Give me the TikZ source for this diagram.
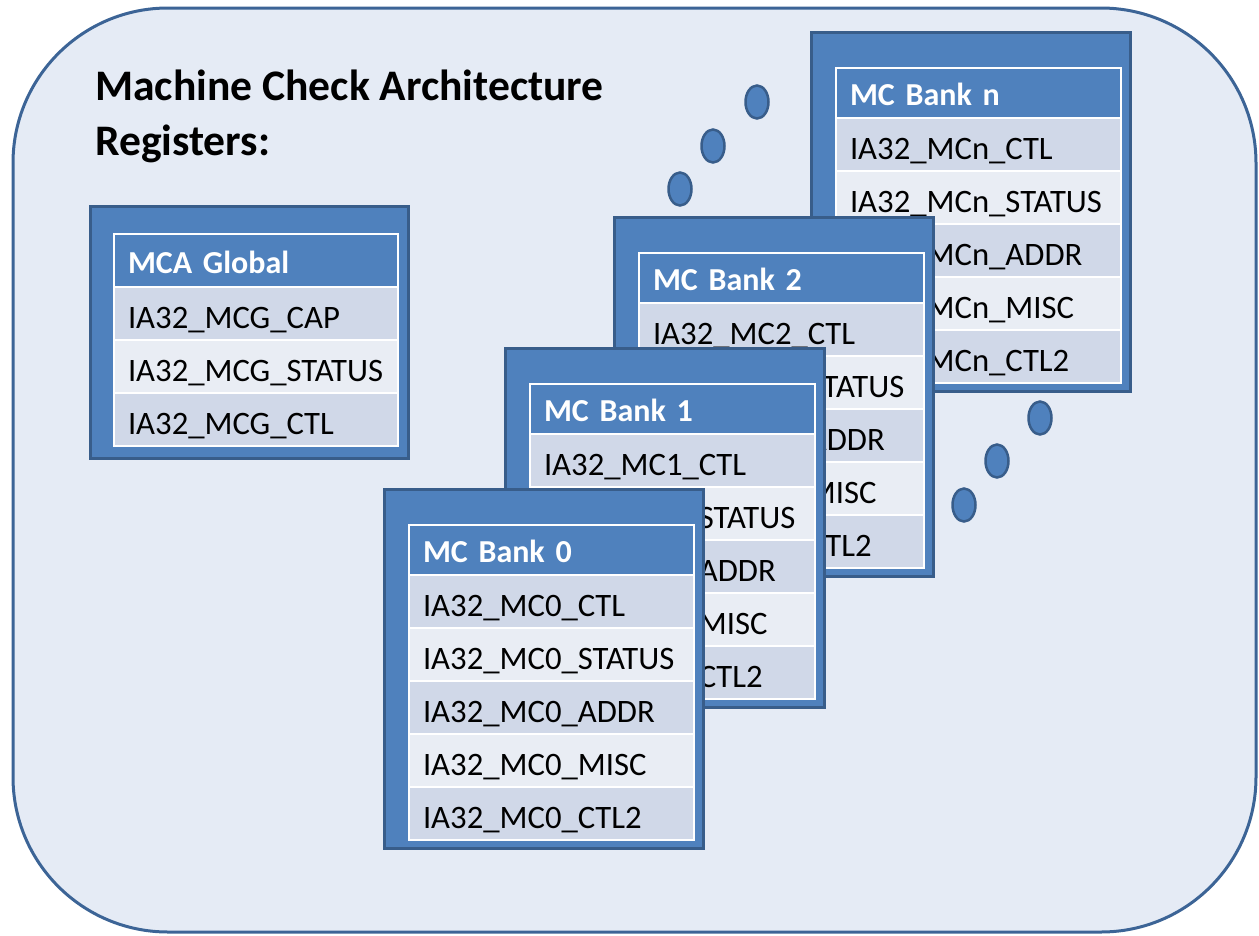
\documentclass[tikz,border=0pt]{standalone}
\usepackage{fontspec}
\setmainfont{Carlito}
\usetikzlibrary{shapes.geometric}
\definecolor{bgfill}{HTML}{E5EBF5}
\definecolor{bgline}{HTML}{3C6496}
\definecolor{accent}{HTML}{4F81BD}
\definecolor{accentdk}{HTML}{385D8A}
\definecolor{rowdk}{HTML}{D0D8E8}
\definecolor{rowlt}{HTML}{E9EDF4}
\tikzset{
  outerbox/.style={draw=accentdk, fill=accent, line width=3pt, minimum width=319pt, minimum height=359pt, anchor=north west, inner sep=0pt},
  hdr/.style={fill=accent, draw=white, line width=2pt, anchor=north west, text width=257pt, inner xsep=14pt, inner ysep=0pt, minimum height=50pt, text height=25pt, text depth=0pt, text=white, font=\bfseries\fontsize{32}{36}\selectfont},
  regrow/.style={draw=white, line width=2pt, anchor=north west, text width=257pt, inner xsep=14pt, inner ysep=0pt, minimum height=53pt, text height=29pt, text depth=0pt, text=black, font=\fontsize{32.7}{36}\selectfont},
  rowdark/.style={regrow, fill=rowdk},
  rowlight/.style={regrow, fill=rowlt},
  dot/.style={ellipse, draw=accentdk, fill=accent, line width=2.5pt, minimum width=23pt, minimum height=33pt, inner sep=0pt},
  titletext/.style={anchor=base west, inner sep=0pt, font=\bfseries\fontsize{43.6}{50}\selectfont}
}
\newcommand\mcbankbox[4]{%
  \begin{scope}[shift={(#2,#3)}]
    \node[outerbox] (#1) at (0,0) {};
    \node[hdr] (#1h) at (25,36) {MC Bank #4};
    \foreach \s [count=\i from 0] in {CTL,STATUS,ADDR,MISC,CTL2} {
      \ifodd\i \def\rs{rowlight}\else\def\rs{rowdark}\fi
      \node[\rs] (#1r\i) at (25,{86+53*\i}) {IA32\_MC#4\_\s};
    }
  \end{scope}}
\begin{document}
\begin{tikzpicture}[x=1pt,y=-1pt]
\useasboundingbox (0,0) rectangle (1259,935);
\draw[bgline, fill=bgfill, line width=3pt, rounded corners=155pt] (13,8) rectangle (1256,932);

\node[titletext] (t1) at (95,100) {Machine Check Architecture};
\node[titletext] (t2) at (95,155) {Registers:};

% MCA Global
\node[outerbox, minimum width=318pt, minimum height=252pt] (g) at (89,205) {};
\node[hdr, minimum height=53pt, text width=256pt] (gh) at (113,233) {MCA Global};
\node[rowdark, text width=256pt] (g0) at (113,286) {IA32\_MCG\_CAP};
\node[rowlight, text width=256pt] (g1) at (113,339) {IA32\_MCG\_STATUS};
\node[rowdark, text width=256pt] (g2) at (113,392) {IA32\_MCG\_CTL};

% dots
\node[dot] (d1) at (680,189) {};
\node[dot] (d2) at (713,146) {};
\node[dot] (d3) at (757,102) {};
\node[dot] (d4) at (964,505) {};
\node[dot] (d5) at (997,461) {};
\node[dot] (d6) at (1040,418) {};

\mcbankbox{bn}{810}{31}{n}
\mcbankbox{b2}{613}{216}{2}
\mcbankbox{b1}{504}{347}{1}
\mcbankbox{b0}{383}{488}{0}
\end{tikzpicture}
\end{document}
